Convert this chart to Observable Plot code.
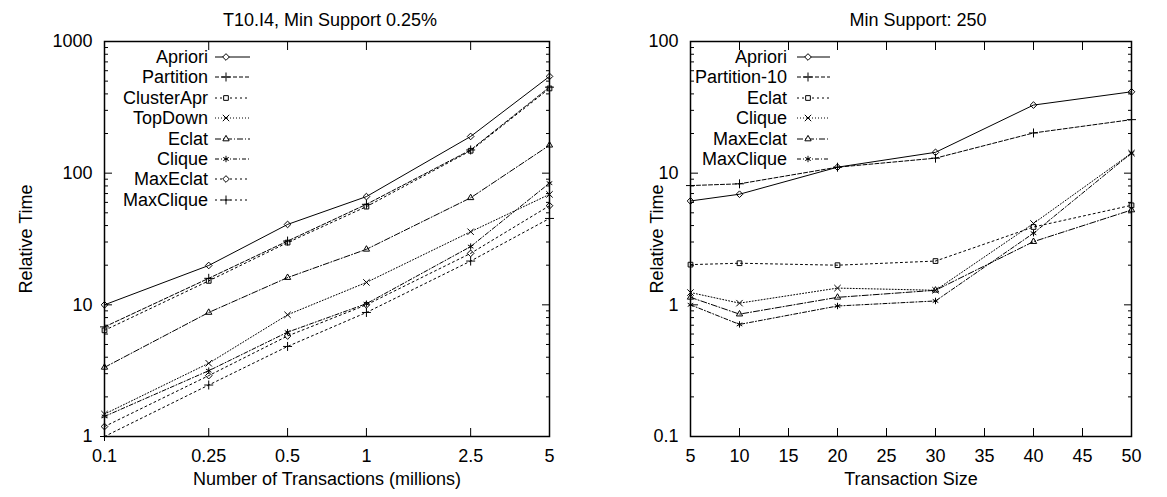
<!DOCTYPE html>
<html><head><meta charset="utf-8">
<script src="https://cdn.jsdelivr.net/npm/d3@7"></script>
<script src="https://cdn.jsdelivr.net/npm/@observablehq/plot@0.6"></script>
<style>
body{margin:0;background:#fff;}
#wrap{position:relative;width:1167px;height:497px;font-family:"Liberation Sans",Arial,sans-serif;overflow:hidden;}
.panel{position:absolute;top:0;height:497px;}
.lg-text{position:absolute;left:0;text-align:right;font-size:18px;line-height:20px;height:20px;white-space:nowrap;color:#000;}
.lg-svg{position:absolute;overflow:visible;}
</style></head><body><div id="wrap"></div>
<script>
// ---------- Left panel data ----------
const leftTitle = "T10.I4, Min Support 0.25%";
const leftXLabel = "Number of Transactions (millions)";
const leftX = [0.1, 0.25, 0.5, 1, 2.5, 5];
const leftNames = ["Apriori", "Partition", "ClusterApr", "TopDown", "Eclat", "Clique", "MaxEclat", "MaxClique"];
const L_Apriori    = [10, 19.9, 40.8, 66.4, 190, 543];
const L_Partition  = [6.8, 15.9, 30.5, 58, 150, 450];
const L_ClusterApr = [6.4, 15.2, 29.7, 55.7, 148, 440];
const L_TopDown    = [1.48, 3.6, 8.4, 14.8, 35.9, 69];
const L_Eclat      = [3.35, 8.75, 16.1, 26.4, 65, 163];
const L_Clique     = [1.42, 3.16, 6.2, 10.2, 27.7, 84];
const L_MaxEclat   = [1.19, 2.9, 5.8, 10, 24.6, 56.6];
const L_MaxClique  = [1.0, 2.46, 4.83, 8.75, 21.5, 45.3];
const leftValues = [L_Apriori, L_Partition, L_ClusterApr, L_TopDown, L_Eclat, L_Clique, L_MaxEclat, L_MaxClique];
const leftXTickLabels = ["0.1", "0.25", "0.5", "1", "2.5", "5"];
const leftYTicks = [1, 10, 100, 1000];

// ---------- Right panel data ----------
const rightTitle = "Min Support: 250";
const rightXLabel = "Transaction Size";
const rightX = [5, 10, 20, 30, 40, 50];
const rightNames = ["Apriori", "Partition-10", "Eclat", "Clique", "MaxEclat", "MaxClique"];
const R_Apriori     = [6.15, 6.92, 11.1, 14.4, 32.9, 41.5];
const R_Partition10 = [8.05, 8.3, 11.1, 13.0, 20.2, 25.5];
const R_Eclat       = [2.02, 2.07, 2.0, 2.15, 3.9, 5.7];
const R_Clique      = [1.24, 1.03, 1.34, 1.29, 4.15, 14.2];
const R_MaxEclat    = [1.14, 0.85, 1.14, 1.29, 3.02, 5.25];
const R_MaxClique   = [1.0, 0.71, 0.98, 1.07, 3.5, 14.2];
const rightValues = [R_Apriori, R_Partition10, R_Eclat, R_Clique, R_MaxEclat, R_MaxClique];
const rightXTicks = [5, 10, 15, 20, 25, 30, 35, 40, 45, 50];
const rightXTickLabels = ["5", "10", "15", "20", "25", "30", "35", "40", "45", "50"];
const rightYTicks = [0.1, 1, 10, 100];
const yLabel = "Relative Time";

// ---------- Styles ----------
const leftSymbols = ["diamond2", "plus", "square2", "times", "triangle2", "asterisk", "diamond2", "plus"];
const leftDashes = [null, "4,2", "2,3", "1,2", "6,2,1,2", "4,2,1,2", "2,3", "2,3"];
const rightSymbols = ["diamond2", "plus", "square2", "times", "triangle2", "asterisk"];
const rightDashes = [null, "4,2", "2,3", "1,2", "6,2,1,2", "4,2,1,2"];
const FS = 18;

function minorTicks(decades) {
  return decades.flatMap(d => [2,3,4,5,6,7,8,9].map(k => +(k * d).toPrecision(3)));
}

function panel(cfg) {
  const rows = cfg.names.flatMap((name, i) => cfg.xs.map((x, j) => ({x, y: cfg.values[i][j], series: name})));
  const tickRows = cfg.xTicks.map((x, i) => ({x, label: cfg.xTickLabels[i]}));
  const marks = [];
  cfg.names.forEach((name, i) => {
    const d = rows.filter(r => r.series === name);
    marks.push(Plot.line(d, {x: "x", y: "y", stroke: "black", strokeWidth: 1, strokeDasharray: cfg.dashes[i] || undefined}));
    marks.push(Plot.dot(d, {x: "x", y: "y", symbol: cfg.symbols[i], r: 3, stroke: "black", strokeWidth: 1, fill: "none"}));
  });
  const minor = minorTicks(cfg.decades);
  marks.push(
    Plot.axisY(cfg.yTicks, {anchor: "left", tickSize: -8, tickPadding: 20, tickFormat: d => String(d), label: null}),
    Plot.axisY(cfg.yTicks, {anchor: "right", tickSize: -8, tickFormat: () => "", label: null}),
    Plot.axisY(minor, {anchor: "left", tickSize: -4, tickFormat: () => "", label: null}),
    Plot.axisY(minor, {anchor: "right", tickSize: -4, tickFormat: () => "", label: null}),
    Plot.axisX(cfg.xTicks, {anchor: "bottom", tickSize: -8, tickFormat: () => "", label: null}),
    Plot.axisX(cfg.xTicks, {anchor: "top", tickSize: -8, tickFormat: () => "", label: null}),
    Plot.text(tickRows, {x: "x", text: "label", frameAnchor: "bottom", dy: 20, lineAnchor: "middle", textAnchor: "middle", fontSize: FS}),
    Plot.frame({stroke: "black", strokeWidth: 1.5}),
    Plot.text([cfg.title], {frameAnchor: "top", dy: -21, dx: cfg.titleDx, lineAnchor: "middle", textAnchor: "middle", fontSize: FS}),
    Plot.text([cfg.xLabel], {frameAnchor: "bottom", dy: 43, lineAnchor: "middle", textAnchor: "middle", fontSize: FS}),
    Plot.text([yLabel], {frameAnchor: "left", rotate: -90, dx: -cfg.yLabelOffset, lineAnchor: "middle", textAnchor: "middle", fontSize: FS})
  );
  return Plot.plot({
    width: cfg.width, height: 497,
    marginLeft: cfg.ml, marginRight: cfg.mr, marginTop: 41, marginBottom: 61,
    style: {fontFamily: "Liberation Sans, Arial, sans-serif", fontSize: FS + "px", color: "black", background: "white", overflow: "visible"},
    x: {type: cfg.xType, domain: cfg.xDomain},
    y: {type: "log", domain: cfg.yDomain},
    marks
  });
}

function legend(container, names, symbols, dashes, textRight, lineX0, lineX1, markX) {
  const symMap = {diamond2: d3.symbolDiamond2, plus: d3.symbolPlus, square2: d3.symbolSquare2, times: d3.symbolTimes, triangle2: d3.symbolTriangle2, asterisk: d3.symbolAsterisk};
  names.forEach((name, i) => {
    const yc = 57 + i * 20.4;
    const t = document.createElement("div");
    t.className = "lg-text";
    t.style.width = textRight + "px";
    t.style.top = (yc - 10) + "px";
    t.textContent = name;
    container.appendChild(t);
    const svg = d3.create("svg").attr("class", "lg-svg")
      .attr("width", lineX1 - lineX0 + 4).attr("height", 14)
      .style("left", (lineX0 - 2) + "px").style("top", (yc - 7) + "px");
    svg.append("line").attr("x1", 2).attr("x2", lineX1 - lineX0 + 2).attr("y1", 7).attr("y2", 7)
      .attr("stroke", "black").attr("stroke-width", 1).attr("stroke-dasharray", dashes[i]);
    svg.append("path").attr("transform", `translate(${markX - lineX0 + 2},7)`)
      .attr("d", d3.symbol(symMap[symbols[i]], Math.PI * 9)())
      .attr("fill", "white").attr("stroke", "black").attr("stroke-width", 1);
    container.appendChild(svg.node());
  });
}

const wrap = document.getElementById("wrap");

const leftDiv = document.createElement("div");
leftDiv.className = "panel"; leftDiv.style.left = "0px"; leftDiv.style.width = "583px";
leftDiv.appendChild(panel({
  names: leftNames, xs: leftX, values: leftValues, symbols: leftSymbols, dashes: leftDashes,
  xTicks: leftX, xTickLabels: leftXTickLabels, yTicks: leftYTicks, decades: [1, 10, 100],
  title: leftTitle, titleDx: 3, xLabel: leftXLabel, yLabelOffset: 78,
  width: 583, ml: 104, mr: 34, xType: "log", xDomain: [0.1, 5], yDomain: [1, 1000]
}));
wrap.appendChild(leftDiv);
legend(leftDiv, leftNames, leftSymbols, leftDashes, 208, 215, 250, 226);

const rightDiv = document.createElement("div");
rightDiv.className = "panel"; rightDiv.style.left = "583px"; rightDiv.style.width = "584px";
rightDiv.appendChild(panel({
  names: rightNames, xs: rightX, values: rightValues, symbols: rightSymbols, dashes: rightDashes,
  xTicks: rightXTicks, xTickLabels: rightXTickLabels, yTicks: rightYTicks, decades: [0.1, 1, 10],
  title: rightTitle, titleDx: 7, xLabel: rightXLabel, yLabelOffset: 33,
  width: 584, ml: 107, mr: 36, xType: "linear", xDomain: [5, 50], yDomain: [0.1, 100]
}));
wrap.appendChild(rightDiv);
legend(rightDiv, rightNames, rightSymbols, rightDashes, 204, 214, 247, 225);
</script></body></html>
